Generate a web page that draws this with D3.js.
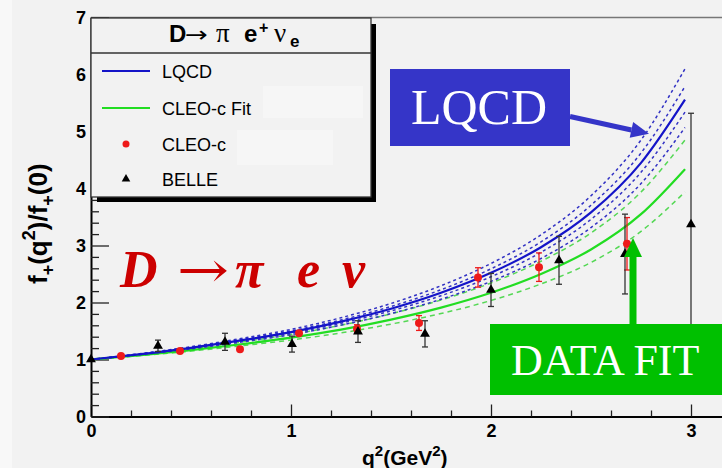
<!DOCTYPE html>
<html><head><meta charset="utf-8">
<script src="https://cdn.jsdelivr.net/npm/d3@7"></script>
<style>
body{margin:0;background:#f2f2f2;}
svg{display:block;}
</style>
</head><body>
<svg id="chart" width="722" height="468" font-family="'Liberation Sans',Arial,sans-serif"></svg>
<script>
// ---------- data ----------
const qGrid        = [0, 0.25, 0.5, 0.75, 1.0, 1.25, 1.5, 1.75, 2.0, 2.25, 2.5, 2.75, 2.97];
const lqcdCentral  = [1, 1.095, 1.205, 1.335, 1.48, 1.665, 1.89, 2.17, 2.52, 2.97, 3.58, 4.45, 5.56];
const lqcdUpperOut = [1, 1.104, 1.225, 1.368, 1.528, 1.733, 1.983, 2.294, 2.685, 3.188, 3.872, 4.85, 6.10];
const lqcdUpperIn  = [1, 1.099, 1.214, 1.349, 1.501, 1.694, 1.930, 2.224, 2.591, 3.064, 3.707, 4.623, 5.79];
const lqcdLowerIn  = [1, 1.091, 1.197, 1.322, 1.460, 1.637, 1.852, 2.119, 2.452, 2.880, 3.459, 4.285, 5.34];
const lqcdLowerOut = [1, 1.087, 1.187, 1.305, 1.436, 1.603, 1.806, 2.057, 2.371, 2.772, 3.315, 4.087, 5.07];
const cleoFit      = [1, 1.077, 1.165, 1.268, 1.385, 1.525, 1.70, 1.91, 2.17, 2.50, 2.93, 3.55, 4.34];
const cleoFitUpper = [1, 1.088, 1.188, 1.306, 1.440, 1.601, 1.801, 2.043, 2.343, 2.724, 3.221, 3.938, 4.85];
const cleoFitLower = [1, 1.069, 1.147, 1.239, 1.342, 1.466, 1.621, 1.806, 2.035, 2.326, 2.703, 3.248, 3.94];

const cleoQ2  = [0.15, 0.445, 0.745, 1.04, 1.33, 1.64, 1.935, 2.24, 2.68];
const cleoVal = [1.06, 1.15, 1.18, 1.46, 1.54, 1.64, 2.44, 2.62, 3.03];
const cleoErr = [0.03, 0.03, 0.04, 0.05, 0.07, 0.13, 0.17, 0.25, 0.46];

const belleQ2  = [0, 0.335, 0.67, 1.005, 1.335, 1.67, 2.0, 2.34, 2.67, 3.0];
const belleVal = [1.0, 1.24, 1.31, 1.27, 1.49, 1.45, 2.22, 2.74, 2.85, 3.37];
const belleErr = [0, 0.10, 0.15, 0.14, 0.19, 0.23, 0.29, 0.42, 0.70, 1.95];

const xMajorTicks = [0, 1, 2, 3];
const yMajorTicks = [0, 1, 2, 3, 4, 5, 6, 7];
const legendLabels = ["LQCD", "CLEO-c Fit", "CLEO-c", "BELLE"];

// ---------- setup ----------
const SERIF = "'Liberation Serif','Times New Roman',serif";
const svg = d3.select("#chart");
const BLUE = "#1414c8", BLUE_D = "#3232c4", GREEN = "#22dd22", GREEN_D = "#55d855", RED = "#ee1a1a";
svg.append("rect").attr("width", 722).attr("height", 468).attr("fill", "#f2f2f2");
svg.append("rect").attr("width", 12).attr("height", 468).attr("fill", "#f8f8f8");

const x = d3.scaleLinear().domain([0, 3.2]).range([91, 731]);
const y = d3.scaleLinear().domain([0, 7]).range([416.5, 17.5]);

// top frame line
svg.append("line").attr("x1", x(0)).attr("x2", 722).attr("y1", y(7)).attr("y2", y(7))
  .attr("stroke", "#777").attr("stroke-width", 1.5);

// ---------- axes ----------
const minorX = d3.range(1, 16).map(i => i * 0.2).filter(v => Math.abs(v - Math.round(v)) > 1e-6);
const minorY = d3.range(1, 35).map(i => i * 0.2).filter(v => Math.abs(v - Math.round(v)) > 1e-6);

const gx = svg.append("g").attr("transform", `translate(0,${y(0)})`);
gx.call(d3.axisBottom(x).tickValues(xMajorTicks).tickSize(-12).tickSizeOuter(0).tickPadding(8).tickFormat(d3.format("d")));
gx.append("g").call(d3.axisBottom(x).tickValues(minorX).tickSize(-6).tickFormat(""))
  .call(g => g.select(".domain").remove());
const gy = svg.append("g").attr("transform", `translate(${x(0)},0)`);
gy.call(d3.axisLeft(y).tickValues(yMajorTicks).tickSize(-18).tickSizeOuter(0).tickPadding(5).tickFormat(d3.format("d")));
gy.append("g").call(d3.axisLeft(y).tickValues(minorY).tickSize(-8).tickFormat(""))
  .call(g => g.select(".domain").remove());
svg.selectAll(".domain").attr("stroke", "#000").attr("stroke-width", 2);
svg.selectAll(".tick line").attr("stroke", "#222").attr("stroke-width", 1.3);
svg.selectAll(".tick text").attr("font-size", 18).attr("font-weight", "bold")
  .attr("font-family", "'Liberation Sans',Arial,sans-serif").attr("fill", "#000");

// axis titles
const yt = svg.append("text").attr("transform", "translate(47,284) rotate(-90)")
  .attr("font-size", 26).attr("font-weight", "bold").attr("fill", "#000");
yt.append("tspan").text("f");
yt.append("tspan").attr("font-size", 18).attr("dy", 7).text("+");
yt.append("tspan").attr("dy", -7).text("(q");
yt.append("tspan").attr("font-size", 18).attr("dy", -12).text("2");
yt.append("tspan").attr("dy", 12).text(")/f");
yt.append("tspan").attr("font-size", 18).attr("dy", 7).text("+");
yt.append("tspan").attr("dy", -7).text("(0)");

const xt = svg.append("text").attr("x", 362).attr("y", 465)
  .attr("font-size", 21).attr("font-weight", "bold").attr("fill", "#000");
xt.append("tspan").text("q");
xt.append("tspan").attr("font-size", 15).attr("dy", -9).text("2");
xt.append("tspan").attr("dy", 9).text("(GeV");
xt.append("tspan").attr("font-size", 15).attr("dy", -9).text("2");
xt.append("tspan").attr("dy", 9).text(")");

// ---------- curves ----------
const line = d3.line().x((d, i) => x(qGrid[i])).y(d => y(d)).curve(d3.curveMonotoneX);
const curves = [
  {d: cleoFitUpper, c: GREEN_D, w: 1.5, dash: "5,4"},
  {d: cleoFitLower, c: GREEN_D, w: 1.5, dash: "5,4"},
  {d: cleoFit, c: GREEN, w: 2.2, dash: null},
  {d: lqcdUpperOut, c: BLUE_D, w: 1.5, dash: "3,3"},
  {d: lqcdUpperIn, c: BLUE_D, w: 1.5, dash: "3,3"},
  {d: lqcdLowerIn, c: BLUE_D, w: 1.5, dash: "3,3"},
  {d: lqcdLowerOut, c: BLUE_D, w: 1.5, dash: "3,3"},
  {d: lqcdCentral, c: BLUE, w: 2.2, dash: null}
];
svg.append("g").selectAll("path").data(curves).join("path")
  .attr("d", c => line(c.d)).attr("fill", "none").attr("stroke", c => c.c)
  .attr("stroke-width", c => c.w).attr("stroke-dasharray", c => c.dash);

// ---------- CLEO-c points ----------
const cleo = cleoQ2.map((q, i) => ({q, v: cleoVal[i], e: cleoErr[i]}));
const gc = svg.append("g").attr("stroke", RED).attr("stroke-width", 1.3);
gc.selectAll("line.v").data(cleo).join("line").attr("class", "v")
  .attr("x1", d => x(d.q)).attr("x2", d => x(d.q)).attr("y1", d => y(d.v + d.e)).attr("y2", d => y(d.v - d.e));
gc.selectAll("line.t").data(cleo.filter(d => d.e > 0.06)).join("line").attr("class", "t")
  .attr("x1", d => x(d.q) - 3).attr("x2", d => x(d.q) + 3).attr("y1", d => y(d.v + d.e)).attr("y2", d => y(d.v + d.e));
gc.selectAll("line.b").data(cleo.filter(d => d.e > 0.06)).join("line").attr("class", "b")
  .attr("x1", d => x(d.q) - 3).attr("x2", d => x(d.q) + 3).attr("y1", d => y(d.v - d.e)).attr("y2", d => y(d.v - d.e));

// ---------- BELLE points ----------
const belle = belleQ2.map((q, i) => ({q, v: belleVal[i], e: belleErr[i]}));
const gb = svg.append("g").attr("stroke", "#333").attr("stroke-width", 1.3);
const bb = belle.filter(d => d.e > 0);
gb.selectAll("line.v").data(bb).join("line").attr("class", "v")
  .attr("x1", d => x(d.q)).attr("x2", d => x(d.q)).attr("y1", d => y(d.v + d.e)).attr("y2", d => y(d.v - d.e));
gb.selectAll("line.t").data(bb).join("line").attr("class", "t")
  .attr("x1", d => x(d.q) - 3).attr("x2", d => x(d.q) + 3).attr("y1", d => y(d.v + d.e)).attr("y2", d => y(d.v + d.e));
gb.selectAll("line.b").data(bb).join("line").attr("class", "b")
  .attr("x1", d => x(d.q) - 3).attr("x2", d => x(d.q) + 3).attr("y1", d => y(d.v - d.e)).attr("y2", d => y(d.v - d.e));

svg.append("g").selectAll("circle").data(cleo).join("circle")
  .attr("cx", d => x(d.q)).attr("cy", d => y(d.v)).attr("r", 4).attr("fill", RED);
const tri = d3.symbol().type(d3.symbolTriangle).size(42);
svg.append("g").selectAll("path").data(belle).join("path")
  .attr("transform", d => `translate(${x(d.q)},${y(d.v)})`).attr("d", tri).attr("fill", "#000");

// ---------- legend ----------
const lg = svg.append("g");
lg.append("rect").attr("x", 371).attr("y", 24).attr("width", 5).attr("height", 178).attr("fill", "#000");
lg.append("rect").attr("x", 97).attr("y", 197).attr("width", 279).attr("height", 5).attr("fill", "#000");
lg.append("rect").attr("x", 91).attr("y", 18).attr("width", 280).attr("height", 179)
  .attr("fill", "#f2f2f2").attr("stroke", "#333").attr("stroke-width", 1.3);
lg.append("line").attr("x1", 91).attr("x2", 371).attr("y1", 53).attr("y2", 53).attr("stroke", "#333").attr("stroke-width", 1.3);
lg.append("rect").attr("x", 263).attr("y", 86).attr("width", 100).attr("height", 32).attr("fill", "#f6f6f6");
lg.append("rect").attr("x", 237).attr("y", 130).attr("width", 96).attr("height", 35).attr("fill", "#f6f6f6");
// title
const tt = lg.append("g").attr("font-size", 24).attr("fill", "#000");
tt.append("text").attr("x", 169).attr("y", 42).attr("font-weight", "bold").text("D");
tt.append("text").attr("x", 185).attr("y", 42).attr("font-family", "'DejaVu Sans',sans-serif").attr("font-size", 22)
  .attr("textLength", 23).attr("lengthAdjust", "spacingAndGlyphs").text("→");
tt.append("text").attr("x", 216).attr("y", 42).attr("font-family", SERIF).attr("font-size", 27).text("π");
tt.append("text").attr("x", 244).attr("y", 42).attr("font-weight", "bold").text("e");
tt.append("text").attr("x", 259).attr("y", 33).attr("font-weight", "bold").attr("font-size", 16).text("+");
tt.append("text").attr("x", 274).attr("y", 42).attr("font-family", SERIF).attr("font-size", 27).text("ν");
tt.append("text").attr("x", 290).attr("y", 47).attr("font-weight", "bold").attr("font-size", 17).text("e");
// entries
const ly = [71, 108, 144, 179];
lg.append("line").attr("x1", 102).attr("x2", 150).attr("y1", ly[0]).attr("y2", ly[0]).attr("stroke", BLUE).attr("stroke-width", 2);
lg.append("line").attr("x1", 102).attr("x2", 150).attr("y1", ly[1]).attr("y2", ly[1]).attr("stroke", GREEN).attr("stroke-width", 2);
lg.append("circle").attr("cx", 126).attr("cy", ly[2]).attr("r", 3.5).attr("fill", RED);
lg.append("path").attr("transform", `translate(126,${ly[3]})`).attr("d", d3.symbol().type(d3.symbolTriangle).size(32)).attr("fill", "#000");
lg.selectAll("text.lab").data(legendLabels).join("text").attr("class", "lab")
  .attr("x", 162).attr("y", (d, i) => ly[i] + 6.5).attr("font-size", 18).attr("fill", "#000").text(d => d);

// ---------- red title ----------
const rt = svg.append("g").attr("fill", "#cc0000").attr("font-family", SERIF)
  .attr("font-weight", "bold").attr("font-style", "italic").attr("font-size", 52);
rt.append("text").attr("x", 120).attr("y", 287).text("D");
rt.append("text").attr("x", 177).attr("y", 287).attr("font-style", "normal").attr("font-weight", "normal")
  .attr("font-family", "'DejaVu Serif',serif").attr("font-size", 50).attr("textLength", 52).attr("lengthAdjust", "spacingAndGlyphs").text("→");
rt.append("text").attr("x", 235).attr("y", 287).text("π");
rt.append("text").attr("x", 297).attr("y", 287).text("e");
rt.append("text").attr("x", 342).attr("y", 287).text("ν");

// ---------- LQCD annotation ----------
const ABLUE = "#3535c8";
svg.append("rect").attr("x", 390).attr("y", 69).attr("width", 180).attr("height", 77).attr("fill", ABLUE);
svg.append("text").attr("x", 479).attr("y", 124).attr("text-anchor", "middle").attr("fill", "#fff")
  .attr("font-family", SERIF).attr("font-size", 50).text("LQCD");
const tipB = [x(2.79), y(4.96)], startB = [570, 116.5];
const ang = Math.atan2(tipB[1] - startB[1], tipB[0] - startB[0]);
const ux = Math.cos(ang), uy = Math.sin(ang);
const baseB = [tipB[0] - 18 * ux, tipB[1] - 18 * uy];
svg.append("line").attr("x1", startB[0]).attr("y1", startB[1]).attr("x2", baseB[0]).attr("y2", baseB[1])
  .attr("stroke", ABLUE).attr("stroke-width", 5);
svg.append("path").attr("fill", ABLUE).attr("d",
  `M${tipB[0]},${tipB[1]}L${baseB[0] - 8 * uy},${baseB[1] + 8 * ux}L${baseB[0] + 8 * uy},${baseB[1] - 8 * ux}Z`);

// ---------- DATA FIT annotation ----------
const AGREEN = "#00c000";
const tipG = [x(2.71), y(3.13)];
svg.append("rect").attr("x", tipG[0] - 3.5).attr("y", tipG[1] + 16).attr("width", 7).attr("height", 324 - tipG[1] - 14).attr("fill", AGREEN);
svg.append("path").attr("fill", AGREEN).attr("d",
  `M${tipG[0]},${tipG[1]}L${tipG[0] + 9},${tipG[1] + 19}L${tipG[0] - 9},${tipG[1] + 19}Z`);
svg.append("rect").attr("x", 490).attr("y", 324).attr("width", 240).attr("height", 71).attr("fill", AGREEN);
svg.append("text").attr("x", 511).attr("y", 375).attr("fill", "#fff")
  .attr("font-family", SERIF).attr("font-size", 44).text("DATA FIT");
</script>
</body></html>
